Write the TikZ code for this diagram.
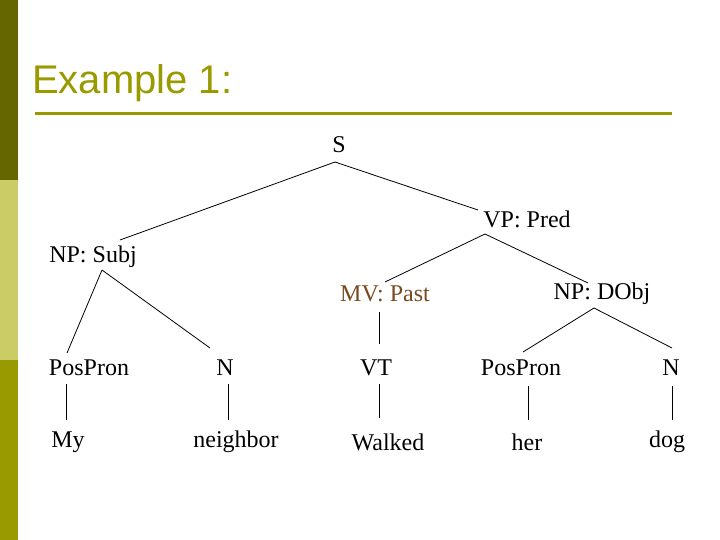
\documentclass[tikz,border=0pt]{standalone}
\usepackage{fontspec}
\setmainfont{Liberation Serif}
\newfontfamily\titlefont{Liberation Sans}
\definecolor{oliveA}{HTML}{666600}
\definecolor{oliveB}{HTML}{CCCC66}
\definecolor{oliveC}{HTML}{999900}
\definecolor{mvbrown}{HTML}{7A4A1E}
\begin{document}
\begin{tikzpicture}[x=1pt,y=-1pt,
  lab/.style={inner sep=0pt,font=\fontsize{24}{24}\selectfont,anchor=center},
  edge/.style={draw=black,line width=0.8pt}]
\useasboundingbox (0,0) rectangle (720,540);
\fill[white] (0,0) rectangle (720,540);
\fill[oliveA] (0,0) rectangle (18,180);
\fill[oliveB] (0,180) rectangle (18,360);
\fill[oliveC] (0,360) rectangle (18,540);
\node[anchor=west,inner sep=0pt,text=oliveC,font=\titlefont\fontsize{40}{40}\selectfont] (title) at (32,83) {Example 1:};
\coordinate (ul1) at (35,114); \coordinate (ul2) at (672,114);
\draw[oliveC,line width=3pt] (ul1) -- (ul2);
\node[lab] (S) at (339,145) {S};
\node[lab] (VP) at (527,219) {VP: Pred};
\node[lab] (NPS) at (93,257) {NP: Subj};
\node[lab,text=mvbrown] (MV) at (385,294) {MV: Past};
\node[lab] (NPD) at (602,294) {NP: DObj};
\node[lab] (PP1) at (89,368) {PosPron};
\node[lab] (N1) at (225,368) {N};
\node[lab] (VT) at (376,368) {VT};
\node[lab] (PP2) at (521,368) {PosPron};
\node[lab] (N2) at (671,368) {N};
\node[lab] (My) at (68,442) {My};
\node[lab] (neighbor) at (236,442) {neighbor};
\node[lab] (Walked) at (388,442) {Walked};
\node[lab] (her) at (527,442) {her};
\node[lab] (dog) at (667,442) {dog};
% connector end points
\coordinate (sB) at (335,162);
\coordinate (vpT) at (478,210);
\coordinate (npsT) at (120,240);
\coordinate (vpB) at (485,234);
\coordinate (mvT) at (385,282);
\coordinate (npdT) at (588,283);
\coordinate (npsB) at (102,270);
\coordinate (pp1T) at (67,353);
\coordinate (n1T) at (210,348);
\coordinate (npdB) at (594,308);
\coordinate (pp2T) at (523,352);
\coordinate (n2T) at (672,348);
\coordinate (mvB) at (379,312); \coordinate (vtT) at (379,344);
\coordinate (vtB) at (379,384); \coordinate (wT) at (379,418);
\coordinate (pp1B) at (66,384); \coordinate (myT) at (66,420);
\coordinate (n1B) at (228,384); \coordinate (neT) at (228,420);
\coordinate (pp2B) at (528,386); \coordinate (herT) at (528,420);
\coordinate (n2B) at (672,386); \coordinate (dogT) at (672,420);
\draw[edge] (sB) -- (vpT);
\draw[edge] (sB) -- (npsT);
\draw[edge] (vpB) -- (mvT);
\draw[edge] (vpB) -- (npdT);
\draw[edge] (npsB) -- (pp1T);
\draw[edge] (npsB) -- (n1T);
\draw[edge] (npdB) -- (pp2T);
\draw[edge] (npdB) -- (n2T);
\draw[edge] (mvB) -- (vtT);
\draw[edge] (vtB) -- (wT);
\draw[edge] (pp1B) -- (myT);
\draw[edge] (n1B) -- (neT);
\draw[edge] (pp2B) -- (herT);
\draw[edge] (n2B) -- (dogT);
\end{tikzpicture}
\end{document}
